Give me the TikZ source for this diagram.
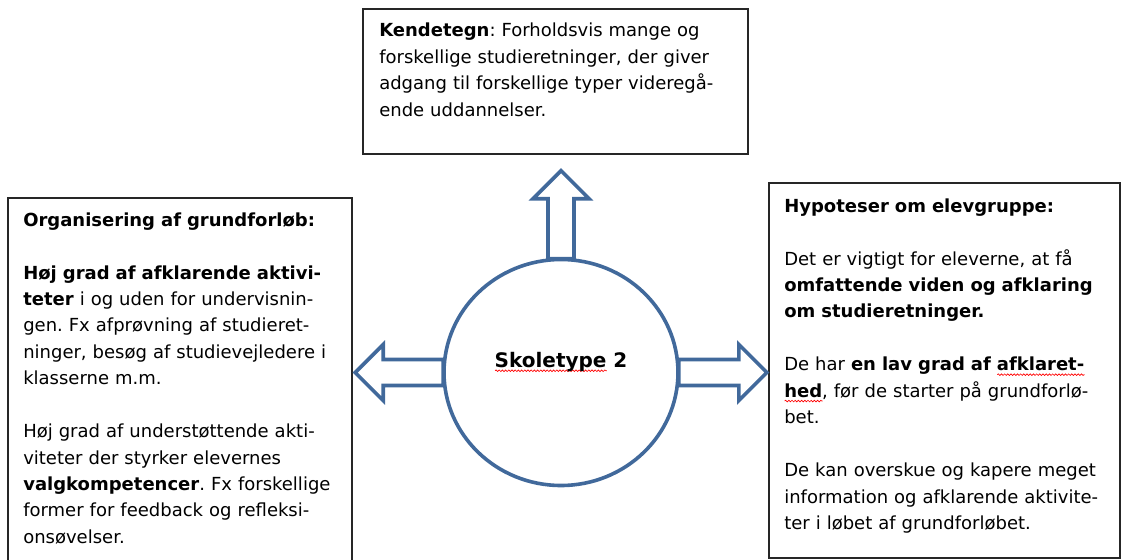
\documentclass[tikz,border=0pt]{standalone}
\usepackage{fontspec}
\setmainfont{DejaVu Sans}
\usetikzlibrary{shapes.geometric,decorations.pathmorphing}
\definecolor{shapeblue}{RGB}{65,105,155}
\frenchspacing
\newlength\spellwd
\newcommand\spell[1]{\settowidth\spellwd{#1}\rlap{\tikz[baseline=0pt]\draw[red,line width=.5pt,decorate,decoration={snake,amplitude=.6pt,segment length=2.4pt}] (0pt,-2.8pt) -- (\spellwd,-2.8pt);}#1}
\begin{document}
\begin{tikzpicture}[x=.75pt,y=-.75pt,
  box/.style={draw=black!85,line width=.8pt,anchor=north west,inner sep=0pt,outer sep=0pt},
  txt/.style={anchor=base west,align=left,inner sep=0pt,text width=300pt,font=\fontsize{13.5}{19.8}\selectfont},
  blockarrow/.style={draw=shapeblue,line width=2.7pt,fill=white,line join=miter}]
 \useasboundingbox (0,0) rectangle (1122,560);
 % boxes
 \node[box,minimum width=288.75pt,minimum height=108.75pt] (kende) at (363,9) {};
 \node[box,minimum width=258pt,minimum height=279pt] (org) at (8,198) {};
 \node[box,minimum width=263.25pt,minimum height=281.25pt] (hypo) at (769,183) {};
 \node[txt] (kendetekst) at ([shift={(16,28)}]kende.north west)
  {\textbf{Kendetegn}: Forholdsvis mange og\\
   forskellige studieretninger, der giver\\
   adgang til forskellige typer videregå-\\
   ende uddannelser.};
 \node[txt] (orgtekst) at ([shift={(15,28)}]org.north west)
  {\textbf{Organisering af grundforløb:}\\[20pt]
   \textbf{Høj grad af afklarende aktivi-}\\
   \textbf{teter} i og uden for undervisnin-\\
   gen. Fx afprøvning af studieret-\\
   ninger, besøg af studievejledere i\\
   klasserne m.m.\\[20pt]
   Høj grad af understøttende akti-\\
   viteter der styrker elevernes\\
   \textbf{valgkompetencer}. Fx forskellige\\
   former for feedback og refleksi-\\
   onsøvelser.};
 \node[txt] (hypotekst) at ([shift={(15,29)}]hypo.north west)
  {\textbf{Hypoteser om elevgruppe:}\\[20pt]
   Det er vigtigt for eleverne, at få\\
   \textbf{omfattende viden og afklaring}\\
   \textbf{om studieretninger.}\\[20pt]
   De har \textbf{en lav grad af \spell{afklaret-}}\\
   \textbf{\spell{hed}}, før de starter på grundforlø-\\
   bet.\\[20pt]
   De kan overskue og kapere meget\\
   information og afklarende aktivite-\\
   ter i løbet af grundforløbet.};
 % circle and arrows
 \node[draw=shapeblue,line width=2.7pt,ellipse,minimum width=175.5pt,minimum height=169.5pt,inner sep=0pt] (skole) at (561,372.5) {};
 \node[anchor=base,inner sep=0pt,font=\fontsize{15}{18}\selectfont\bfseries] (skoletekst) at ([shift={(0,-5.5)}]skole.center) {\spell{Skoletype} 2};
 \foreach \a/\r in {north/90,west/180,east/0}
  \draw[blockarrow,shift={(skole.\a)},rotate=\r] (-1,-13)--(59,-13)--(59,-28)--(87,0)--(59,28)--(59,13)--(-1,13)--cycle;
\end{tikzpicture}
\end{document}
